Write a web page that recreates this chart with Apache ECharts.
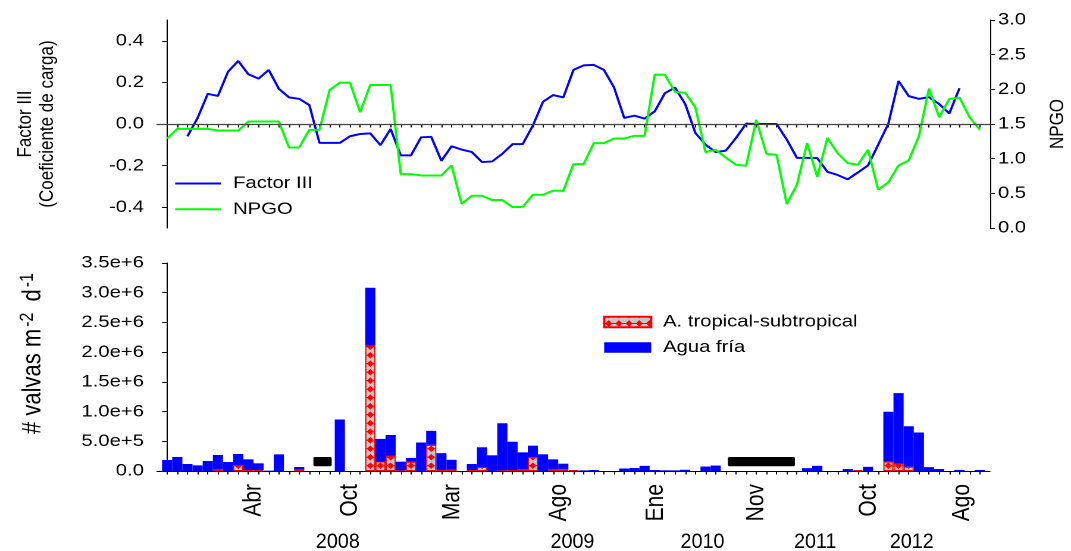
<!DOCTYPE html>
<html>
<head>
<meta charset="utf-8">
<script src="https://cdn.jsdelivr.net/npm/echarts@6/dist/echarts.min.js"></script>
<style>
  html, body { margin: 0; padding: 0; background: #fff; overflow: hidden; }
  #wrap { width: 1071px; height: 551px; overflow: hidden; }
  /* the chart is laid out 900px wide and stretched horizontally to fill 1071px */
  #chart { width: 900px; height: 551px; transform: scaleX(1.19); transform-origin: 0 0; }
</style>
</head>
<body>
<div id="wrap"><div id="chart"></div></div>
<script>
// ---- data: one value per sample (index 0..80) ----
const sampleIndex = Array.from({ length: 81 }, (_, i) => i);

// Factor III loading coefficient
const factorIII = [
  null, null, -0.059, 0.029, 0.145, 0.135, 0.252, 0.303, 0.239, 0.218,
  0.260, 0.169, 0.128, 0.121, 0.091, -0.091, -0.091, -0.091, -0.059, -0.048,
  -0.045, -0.102, -0.024, -0.151, -0.151, -0.064, -0.062, -0.177, -0.107, -0.123,
  -0.135, -0.183, -0.180, -0.143, -0.097, -0.097, -0.008, 0.107, 0.139, 0.128,
  0.260, 0.282, 0.284, 0.260, 0.175, 0.029, 0.040, 0.026, 0.061, 0.148,
  0.175, 0.096, -0.043, -0.099, -0.135, -0.128, -0.067, 0.002, 0.000, 0.000,
  0.000, -0.075, -0.163, -0.163, -0.164, -0.230, -0.245, -0.266, -0.233, -0.199,
  -0.099, 0.002, 0.207, 0.134, 0.121, 0.129, 0.096, 0.051, 0.172, null,
  null
];

// NPGO index
const npgo = [
  1.291, 1.430, 1.430, 1.430, 1.430, 1.406, 1.406, 1.406, 1.536, 1.536,
  1.536, 1.536, 1.161, 1.161, 1.416, 1.416, 1.991, 2.097, 2.097, 1.670,
  2.063, 2.063, 2.063, 0.777, 0.777, 0.758, 0.758, 0.758, 0.902, 0.350,
  0.465, 0.465, 0.403, 0.403, 0.302, 0.302, 0.480, 0.480, 0.537, 0.537,
  0.921, 0.921, 1.224, 1.224, 1.291, 1.291, 1.329, 1.329, 2.212, 2.212,
  1.963, 1.953, 1.742, 1.094, 1.128, 1.017, 0.912, 0.897, 1.560, 1.070,
  1.056, 0.345, 0.624, 1.224, 0.739, 1.300, 1.080, 0.936, 0.912, 1.128,
  0.552, 0.657, 0.902, 0.974, 1.320, 2.011, 1.598, 1.862, 1.881, 1.598,
  1.416
];

// valve flux (valvas m-2 d-1), tropical-subtropical taxa
const tropical = [
  0, 0, 0, 0, 0, 34e3, 0, 101e3, 17e3, 15e3,
  0, 0, 0, 22e3, 0, 0, 0, 0, 0, 0,
  2108e3, 160e3, 260e3, 10e3, 154e3, 0, 440e3, 18e3, 22e3, 0,
  17e3, 67e3, 0, 10e3, 17e3, 28e3, 230e3, 0, 34e3, 35e3,
  15e3, 0, 0, 0, 0, 0, 0, 0, 0, 0,
  0, 0, 0, 0, 0, 0, 0, 0, 0, 0,
  0, 0, 0, 0, 0, 0, 0, 0, 15e3, 0,
  0, 157e3, 125e3, 72e3, 0, 0, 0, 0, 0, 0,
  0
];

// valve flux (valvas m-2 d-1), cold-water taxa
const aguaFria = [
  185e3, 236e3, 118e3, 95e3, 168e3, 235e3, 151e3, 185e3, 179e3, 114e3,
  6e3, 280e3, 0, 45e3, 0, 0, 0, 866e3, 0, 0,
  976e3, 380e3, 346e3, 147e3, 65e3, 480e3, 236e3, 282e3, 166e3, 0,
  101e3, 332e3, 264e3, 793e3, 476e3, 286e3, 196e3, 281e3, 162e3, 88e3,
  0, 11e3, 17e3, 0, 0, 42e3, 50e3, 87e3, 17e3, 12e3,
  11e3, 21e3, 0, 75e3, 92e3, 0, 0, 0, 0, 0,
  0, 0, 0, 48e3, 87e3, 0, 0, 33e3, 0, 70e3,
  0, 841e3, 1185e3, 680e3, 648e3, 65e3, 34e3, 0, 18e3, 0,
  18e3
];

// sampling gaps (no trap data), in sample-index units
const gaps = [[14.4, 16.2], [55.2, 61.8]];

// axis labels
const monthTicks = [8.5, 18, 28.1, 38.6, 48.1, 58, 69.1, 78.3];
const monthLabels = ['Abr', 'Oct', 'Mar', 'Ago', 'Ene', 'Nov', 'Oct', 'Ago'];
const yearTicks = [16.8, 39.9, 52.7, 63.8, 73.3];
const yearLabels = ['2008', '2009', '2010', '2011', '2012'];
const factorTicks = [-0.4, -0.2, 0, 0.2, 0.4];

// ---- layout ----
const GRID_LEFT = 131.9;
const GRID_W = 700;
const PANEL_H = 208;
const TOP_A = 20;
const TOP_B = 263;
const BAR_W = GRID_W / 82;
const GAP_BAND = [80e3, 235e3];
const YEAR_Y = 542;
const RIGHT_NAME_X = 889;
const FONT = '"Liberation Sans", Arial, sans-serif';

function lookup(ticks, labels) {
  return v => {
    const i = ticks.findIndex(t => Math.abs(t - v) < 1e-6);
    return i >= 0 ? labels[i] : '';
  };
}

// grey cell with a red diamond on a red rule, one cell per bar column
function tropicalPattern() {
  const c = document.createElement('canvas');
  c.width = 40; c.height = 36;
  const g = c.getContext('2d');
  g.fillStyle = '#c6c6c6';
  g.fillRect(0, 0, 40, 36);
  g.fillStyle = '#ff0000';
  g.fillRect(0, 16, 40, 4);
  g.beginPath();
  g.moveTo(20, 4); g.lineTo(34, 18); g.lineTo(20, 32); g.lineTo(6, 18);
  g.closePath();
  g.fill();
  return {
    image: c, repeat: 'repeat',
    scaleX: BAR_W / 40, scaleY: 8.5 / 36,
    x: GRID_LEFT + BAR_W / 2, y: 461.45
  };
}

const black = '#000';
const axisText = { color: black, fontSize: 17, fontFamily: FONT };

// bar slots: one category per sample plus an empty slot at each end
const barSlots = ['', ...sampleIndex.map(String), ''];
const asBars = arr => ['-', ...arr.map(v => v || '-'), '-'];

const chart = echarts.init(document.getElementById('chart'), null, { devicePixelRatio: 2 });

const baseX = {
  type: 'value', min: -1, max: 81,
  axisLine: { show: true, lineStyle: { color: black, width: 1 } },
  axisTick: { show: true, customValues: sampleIndex, length: 3.5, lineStyle: { color: black } },
  splitLine: { show: false }
};

chart.setOption({
  animation: false,
  backgroundColor: '#fff',
  textStyle: { fontFamily: FONT },
  grid: [
    { left: GRID_LEFT, width: GRID_W, top: TOP_A, height: PANEL_H },
    { left: GRID_LEFT, width: GRID_W, top: TOP_B, height: PANEL_H }
  ],
  legend: [
    {
      data: ['Factor III', 'NPGO'],
      orient: 'vertical', left: 146.2, top: 175, padding: 0,
      itemWidth: 38.7, itemHeight: 14, itemGap: 8.7,
      itemStyle: { opacity: 0 },
      textStyle: Object.assign({ lineHeight: 17, padding: [0, 0, 0, 5] }, axisText)
    },
    {
      data: ['A. tropical-subtropical', 'Agua fría'],
      orient: 'vertical', left: 506.7, top: 313.5, padding: 0,
      icon: 'rect',
      itemWidth: 39.5, itemHeight: 10.5, itemGap: 8.5,
      textStyle: Object.assign({ lineHeight: 17, padding: [0, 0, 0, 5] }, axisText)
    }
  ],
  xAxis: [
    Object.assign({ gridIndex: 0, axisLabel: { show: false } }, baseX),
    Object.assign({
      gridIndex: 1,
      axisLabel: Object.assign({}, axisText, {
        show: true, customValues: monthTicks, formatter: lookup(monthTicks, monthLabels),
        rotate: 90, margin: 13, fontSize: 21
      })
    }, baseX),
    {
      gridIndex: 1, type: 'category', data: barSlots, boundaryGap: false, show: false
    }
  ],
  yAxis: [
    {
      gridIndex: 0, type: 'value', min: -0.5, max: 0.5, position: 'left',
      axisLine: { show: true, lineStyle: { color: black } },
      axisTick: { show: true, customValues: factorTicks, length: 4.2, lineStyle: { color: black } },
      axisLabel: Object.assign({ customValues: factorTicks, formatter: v => v.toFixed(1), margin: 11 }, axisText),
      splitLine: { show: false },
      name: 'Factor III\n(Coeficiente de carga)', nameLocation: 'middle', nameRotate: 90, nameGap: 83,
      nameTextStyle: Object.assign({ lineHeight: 18.5 }, axisText)
    },
    {
      gridIndex: 0, type: 'value', min: 0, max: 3, interval: 0.5, position: 'right',
      axisLine: { show: true, lineStyle: { color: black } },
      axisTick: { show: true, length: 4.2, lineStyle: { color: black } },
      axisLabel: Object.assign({ formatter: v => v.toFixed(1), margin: 6.7 }, axisText),
      splitLine: { show: false }
    },
    {
      gridIndex: 1, type: 'value', min: 0, max: 3.5e6, interval: 5e5, position: 'left',
      axisLine: { show: true, lineStyle: { color: black } },
      axisTick: { show: true, length: 4.2, lineStyle: { color: black } },
      axisLabel: Object.assign({ formatter: v => (v === 0 ? '0.0' : v.toExponential(1)), margin: 11 }, axisText),
      splitLine: { show: false },
      name: '{n|# valvas m}{s|-2}{n| d}{s|-1}', nameLocation: 'middle', nameRotate: 90, nameGap: 91,
      nameTextStyle: {
        padding: [0, 0, 0, 32],
        rich: {
          n: { fontSize: 22, lineHeight: 26, color: black, fontFamily: FONT },
          s: { fontSize: 16, lineHeight: 16, color: black, fontFamily: FONT, verticalAlign: 'top', padding: [0, 5, 0, 2] }
        }
      }
    }
  ],
  series: [
    {
      name: 'Factor III', type: 'line', xAxisIndex: 0, yAxisIndex: 0,
      data: sampleIndex.map(i => [i, factorIII[i] == null ? '-' : factorIII[i]]),
      symbol: 'none', lineStyle: { color: '#0000ff', width: 2 }, itemStyle: { color: '#0000ff' },
      z: 3,
      markLine: {
        silent: true, symbol: 'none', label: { show: false },
        lineStyle: { color: '#444', width: 1.2, type: 'solid' },
        data: [{ yAxis: 0 }]
      }
    },
    {
      name: 'NPGO', type: 'line', xAxisIndex: 0, yAxisIndex: 1,
      data: sampleIndex.map(i => [i, npgo[i]]),
      symbol: 'none', lineStyle: { color: '#00ff00', width: 2 }, itemStyle: { color: '#00ff00' },
      z: 4
    },
    {
      name: 'A. tropical-subtropical', type: 'bar', xAxisIndex: 2, yAxisIndex: 2, stack: 'flux',
      barWidth: BAR_W,
      data: asBars(tropical),
      itemStyle: { color: tropicalPattern(), borderColor: '#ff0000', borderWidth: 1 }
    },
    {
      name: 'Agua fría', type: 'bar', xAxisIndex: 2, yAxisIndex: 2, stack: 'flux',
      barWidth: BAR_W,
      data: asBars(aguaFria),
      itemStyle: { color: '#0000ff' }
    },
    {
      // black bars marking periods without samples
      name: 'sin muestra', type: 'custom', xAxisIndex: 1, yAxisIndex: 2,
      data: gaps,
      encode: { x: [0, 1] },
      renderItem: (params, api) => {
        const p0 = api.coord([api.value(0), GAP_BAND[1]]);
        const p1 = api.coord([api.value(1), GAP_BAND[0]]);
        return {
          type: 'rect',
          shape: { x: p0[0], y: p0[1], width: p1[0] - p0[0], height: p1[1] - p0[1], r: 1.5 },
          style: { fill: '#000' }
        };
      },
      silent: true
    }
  ]
});

// year captions under the month labels (condensed), and the right-axis title
const captions = yearTicks.map((t, i) => ({
  type: 'text',
  x: chart.convertToPixel({ xAxisIndex: 1 }, t),
  y: YEAR_Y,
  scaleX: 0.79,
  silent: true,
  style: {
    text: yearLabels[i], fill: black, fontSize: 21, fontFamily: FONT,
    align: 'center', verticalAlign: 'middle'
  }
}));
captions.push({
  type: 'text',
  x: RIGHT_NAME_X,
  y: TOP_A + PANEL_H / 2,
  rotation: Math.PI / 2,
  silent: true,
  style: {
    text: 'NPGO', fill: black, fontSize: 17, fontFamily: FONT,
    align: 'center', verticalAlign: 'middle'
  }
});
chart.setOption({ graphic: captions });
</script>
</body>
</html>
